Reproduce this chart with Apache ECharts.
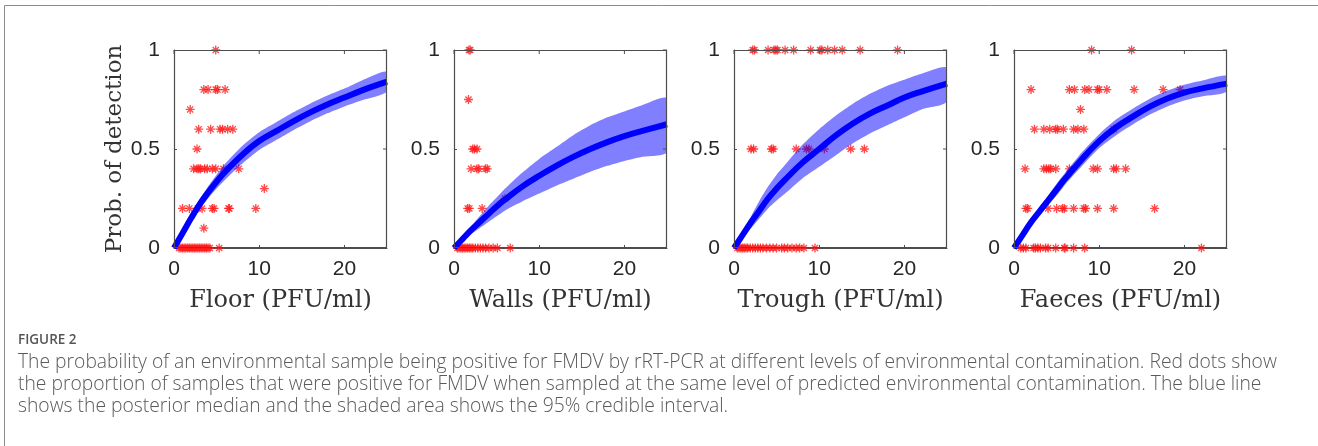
<!DOCTYPE html>
<html><head><meta charset="utf-8">
<script src="https://cdn.jsdelivr.net/npm/echarts@6/dist/echarts.min.js"></script>
<style>html,body{margin:0;padding:0;background:#fff}#c{width:1318px;height:446px}</style>
</head><body><div id="c"></div>
<script>
// ---------- data ----------
const panelNames = ['Floor (PFU/ml)', 'Walls (PFU/ml)', 'Trough (PFU/ml)', 'Faeces (PFU/ml)'];
const yAxisTitle = 'Prob. of detection';
const xTicks = [0, 10, 20];
const yTicks = [0, 0.5, 1];
const xRange = [0, 25];
const yRange = [0, 1];

const floorPts = [
  [4.9,1],
  [3.5,0.8],[4.0,0.8],[4.9,0.8],[5.1,0.8],[6.0,0.8],
  [1.9,0.7],
  [2.9,0.6],[4.3,0.6],[5.4,0.6],[5.7,0.6],[6.3,0.6],[6.9,0.6],
  [2.7,0.5],
  [2.3,0.4],[2.7,0.4],[2.9,0.4],[3.1,0.4],[3.6,0.4],[3.9,0.4],[4.5,0.4],[4.9,0.4],[5.8,0.4],[7.6,0.4],
  [10.6,0.3],
  [1.0,0.2],[1.8,0.2],[2.8,0.2],[3.3,0.2],[4.5,0.2],[4.7,0.2],[6.4,0.2],[6.5,0.2],[9.6,0.2],
  [3.5,0.1],
  [0.6,0],[0.8,0],[1.0,0],[1.2,0],[1.4,0],[1.6,0],[1.8,0],[2.0,0],[2.2,0],[2.4,0],[2.6,0],[2.8,0],
  [3.0,0],[3.2,0],[3.4,0],[3.6,0],[3.8,0],[4.0,0],[4.2,0],[5.3,0]
];
const wallsPts = [
  [1.76,1],[1.9,1],
  [1.7,0.75],
  [2.2,0.5],[2.4,0.5],[2.7,0.5],
  [2.0,0.4],[2.7,0.4],[2.9,0.4],[3.7,0.4],[3.9,0.4],
  [6.0,0.25],
  [1.6,0.2],[1.8,0.2],[3.3,0.2],
  [0.4,0],[0.6,0],[0.8,0],[1.0,0],[1.2,0],[1.4,0],[1.6,0],[1.8,0],[2.0,0],[2.2,0],[2.5,0],[2.8,0],
  [3.1,0],[3.4,0],[3.7,0],[4.1,0],[4.6,0],[5.1,0],[6.6,0]
];
const troughPts = [
  [2.2,1],[2.4,1],[4.0,1],[4.7,1],[4.9,1],[5.1,1],[6.0,1],[7.0,1],[9.0,1],[10.1,1],[10.3,1],[11.0,1],
  [11.8,1],[12.7,1],[14.8,1],[19.2,1],
  [2.0,0.5],[2.3,0.5],[4.4,0.5],[4.6,0.5],[7.3,0.5],[8.5,0.5],[8.8,0.5],[10.6,0.5],[13.7,0.5],[15.3,0.5],
  [0.4,0],[0.6,0],[0.8,0],[1.0,0],[1.2,0],[1.4,0],[1.6,0],[1.9,0],[2.2,0],[2.5,0],[2.8,0],[3.1,0],
  [3.4,0],[3.8,0],[4.2,0],[4.6,0],[5.0,0],[5.6,0],[5.9,0],[6.3,0],[6.8,0],[7.3,0],[7.7,0],[8.2,0],[9.5,0]
];
const faecesPts = [
  [9.1,1],[13.8,1],
  [2.0,0.8],[6.5,0.8],[7.1,0.8],[8.3,0.8],[8.8,0.8],[9.8,0.8],[10.0,0.8],[10.9,0.8],[14.1,0.8],[17.5,0.8],[19.5,0.8],
  [7.8,0.7],
  [2.4,0.6],[3.5,0.6],[4.2,0.6],[4.9,0.6],[5.1,0.6],[5.8,0.6],[7.0,0.6],[7.5,0.6],[8.2,0.6],[11.7,0.6],
  [1.3,0.4],[3.5,0.4],[3.8,0.4],[4.1,0.4],[4.3,0.4],[4.9,0.4],[6.5,0.4],[9.3,0.4],[9.8,0.4],[11.7,0.4],[12.0,0.4],[13.1,0.4],
  [1.4,0.2],[1.6,0.2],[4.0,0.2],[5.0,0.2],[5.7,0.2],[5.9,0.2],[7.0,0.2],[8.2,0.2],[8.4,0.2],[9.8,0.2],[11.7,0.2],[16.5,0.2],
  [0.8,0],[1.1,0],[1.4,0],[2.3,0],[2.5,0],[2.8,0],[3.1,0],[3.7,0],[4.0,0],[4.9,0],[5.9,0],[6.0,0],[7.0,0],[8.3,0],[22.0,0]
];

const curveX = [0,1,2,3,4,5,6,8,10,12,14,16,18,20,22,25];
const floorMed = [0,0.075,0.15,0.22,0.28,0.335,0.385,0.47,0.54,0.59,0.64,0.685,0.725,0.76,0.795,0.84];
const floorUp  = [0,0.085,0.17,0.245,0.31,0.37,0.425,0.515,0.585,0.635,0.685,0.73,0.77,0.805,0.845,0.89];
const floorLo  = [0,0.065,0.13,0.195,0.25,0.30,0.345,0.425,0.495,0.545,0.595,0.64,0.68,0.715,0.745,0.79];
const wallsMed = [0,0.045,0.09,0.13,0.17,0.21,0.245,0.31,0.365,0.415,0.46,0.50,0.535,0.565,0.59,0.625];
const wallsUp  = [0,0.055,0.11,0.16,0.21,0.255,0.30,0.38,0.45,0.51,0.57,0.62,0.66,0.69,0.72,0.755];
const wallsLo  = [0,0.035,0.07,0.10,0.13,0.16,0.19,0.235,0.275,0.315,0.35,0.385,0.415,0.44,0.46,0.485];
const troughMed = [0,0.065,0.13,0.19,0.25,0.30,0.345,0.43,0.50,0.57,0.63,0.68,0.72,0.76,0.79,0.83];
const troughUp  = [0,0.08,0.16,0.24,0.31,0.37,0.42,0.52,0.60,0.67,0.73,0.78,0.82,0.85,0.88,0.91];
const troughLo  = [0,0.05,0.10,0.15,0.20,0.24,0.275,0.35,0.41,0.47,0.53,0.58,0.62,0.66,0.70,0.74];
const faecesMed = [0,0.065,0.13,0.185,0.24,0.295,0.35,0.45,0.54,0.61,0.665,0.715,0.755,0.785,0.805,0.83];
const faecesUp  = [0,0.075,0.145,0.205,0.265,0.325,0.38,0.485,0.575,0.65,0.705,0.755,0.795,0.825,0.845,0.87];
const faecesLo  = [0,0.055,0.115,0.165,0.215,0.265,0.32,0.415,0.505,0.57,0.625,0.675,0.715,0.745,0.765,0.79];

const captionTitle = 'FIGURE 2';
const captionLines = [
  'The probability of an environmental sample being positive for FMDV by rRT-PCR at different levels of environmental contamination. Red dots show',
  'the proportion of samples that were positive for FMDV when sampled at the same level of predicted environmental contamination. The blue line',
  'shows the posterior median and the shaded area shows the 95% credible interval.'
];

// ---------- build ----------
const panels = [
  {pts: floorPts, med: floorMed, up: floorUp, lo: floorLo},
  {pts: wallsPts, med: wallsMed, up: wallsUp, lo: wallsLo},
  {pts: troughPts, med: troughMed, up: troughUp, lo: troughLo},
  {pts: faecesPts, med: faecesMed, up: faecesUp, lo: faecesLo}
];
const gridLefts = [174, 454, 734, 1014];
const frameCol = '#4d4d4d';
const labelFont = {fontFamily: 'Liberation Sans, Arial, sans-serif', fontSize: 21, color: '#262626'};
const nameFont = {fontFamily: 'DejaVu Serif, serif', fontSize: 24, color: '#333333'};
const yNameFont = {fontFamily: 'DejaVu Serif, serif', fontSize: 23, color: '#333333'};
const star = 'path://M5 0L5 10M0 5L10 5M1.6 1.6L8.4 8.4M1.6 8.4L8.4 1.6';

const grids = [], xAxes = [], yAxes = [], series = [];
panels.forEach((p, i) => {
  grids.push({left: gridLefts[i], top: 50, width: 213, height: 198});
  xAxes.push({
    type: 'value', gridIndex: i, position: 'bottom', min: xRange[0], max: xRange[1], interval: 10,
    axisLine: {show: true, onZero: false, lineStyle: {color: frameCol, width: 1}},
    axisTick: {show: true, inside: true, length: 3, lineStyle: {color: frameCol, width: 1}},
    splitLine: {show: false},
    axisLabel: Object.assign({margin: 11, showMaxLabel: false}, labelFont),
    name: panelNames[i], nameLocation: 'middle', nameGap: 41, nameTextStyle: nameFont
  });
  const yA = {
    type: 'value', gridIndex: i, position: 'left', min: yRange[0], max: yRange[1], interval: 0.5,
    axisLine: {show: true, onZero: false, lineStyle: {color: frameCol, width: 1}},
    axisTick: {show: true, inside: true, length: 3, lineStyle: {color: frameCol, width: 1}},
    splitLine: {show: false},
    axisLabel: Object.assign({margin: 14}, labelFont)
  };
  if (i === 0) Object.assign(yA, {name: yAxisTitle, nameLocation: 'middle', nameRotate: 90, nameGap: 46, nameTextStyle: yNameFont});
  yAxes.push(yA);
  series.push({
    type: 'scatter', xAxisIndex: i, yAxisIndex: i, data: p.pts, symbol: star, symbolSize: 9,
    itemStyle: {color: 'rgba(0,0,0,0)', borderColor: '#ff1a1a', borderWidth: 1.3}, z: 2, silent: true
  });
  series.push({
    type: 'custom', xAxisIndex: i, yAxisIndex: i, data: [[0, 0]], z: 3, silent: true, clip: true,
    renderItem: function (params, api) {
      const pts = [];
      curveX.forEach((x, k) => pts.push(api.coord([x, p.up[k]])));
      for (let k = curveX.length - 1; k >= 0; k--) pts.push(api.coord([curveX[k], p.lo[k]]));
      return {type: 'polygon', shape: {points: pts, smooth: 0.25}, style: {fill: 'rgba(0,0,255,0.5)'}};
    }
  });
  series.push({
    type: 'line', xAxisIndex: i, yAxisIndex: i, data: curveX.map((x, k) => [x, p.med[k]]),
    smooth: 0.4, showSymbol: false, lineStyle: {color: '#0000ff', width: 6}, z: 4, silent: true
  });
  // box frame drawn as a polygon outline through the axis scales (MATLAB "box on")
  series.push({
    type: 'custom', xAxisIndex: i, yAxisIndex: i, data: [[0, 0]], z: 10, silent: true, clip: false,
    renderItem: function (params, api) {
      const tl = api.coord([xRange[0], yRange[1]]);
      const tr = api.coord([xRange[1], yRange[1]]);
      const br = api.coord([xRange[1], yRange[0]]);
      const bl = api.coord([xRange[0], yRange[0]]);
      const kids = [{
        type: 'polygon',
        shape: {points: [[tl[0] + 0.5, tl[1] + 0.5], [tr[0] - 0.5, tr[1] + 0.5], [br[0] - 0.5, br[1] - 0.5], [bl[0] + 0.5, bl[1] - 0.5]]},
        style: {fill: 'rgba(0,0,0,0)', stroke: frameCol, lineWidth: 1.2}
      }];
      xTicks.forEach(t => {
        const c = api.coord([t, yRange[1]]);
        kids.push({type: 'polygon', shape: {points: [[c[0] - 0.5, c[1]], [c[0] + 0.5, c[1]], [c[0] + 0.5, c[1] + 4], [c[0] - 0.5, c[1] + 4]]}, style: {fill: frameCol}});
      });
      yTicks.forEach(t => {
        const c = api.coord([xRange[1], t]);
        kids.push({type: 'polygon', shape: {points: [[c[0], c[1] - 0.5], [c[0], c[1] + 0.5], [c[0] - 4, c[1] + 0.5], [c[0] - 4, c[1] - 0.5]]}, style: {fill: frameCol}});
      });
      return {type: 'group', children: kids};
    }
  });
});

const graphic = [
  {type: 'rect', shape: {x: 4.5, y: 5.5, width: 1400, height: 600}, style: {fill: 'rgba(0,0,0,0)', stroke: '#8c8c8c', lineWidth: 1}, silent: true, z: -1},
  {type: 'text', left: 18, top: 333, style: {text: captionTitle, fontFamily: 'Open Sans, sans-serif', fontSize: 13.5, fontWeight: 600, fill: '#555555'}},
];
captionLines.forEach((t, k) => graphic.push({
  type: 'text', left: 18, top: 353 + 22 * k,
  style: {text: t, fontFamily: 'Open Sans, sans-serif', fontSize: 19.3, fontWeight: 300, fill: '#5a5a5a'}
}));

const chart = echarts.init(document.getElementById('c'));
chart.setOption({
  animation: false, backgroundColor: '#ffffff',
  grid: grids, xAxis: xAxes, yAxis: yAxes, series: series, graphic: graphic
});
</script>
</body></html>
